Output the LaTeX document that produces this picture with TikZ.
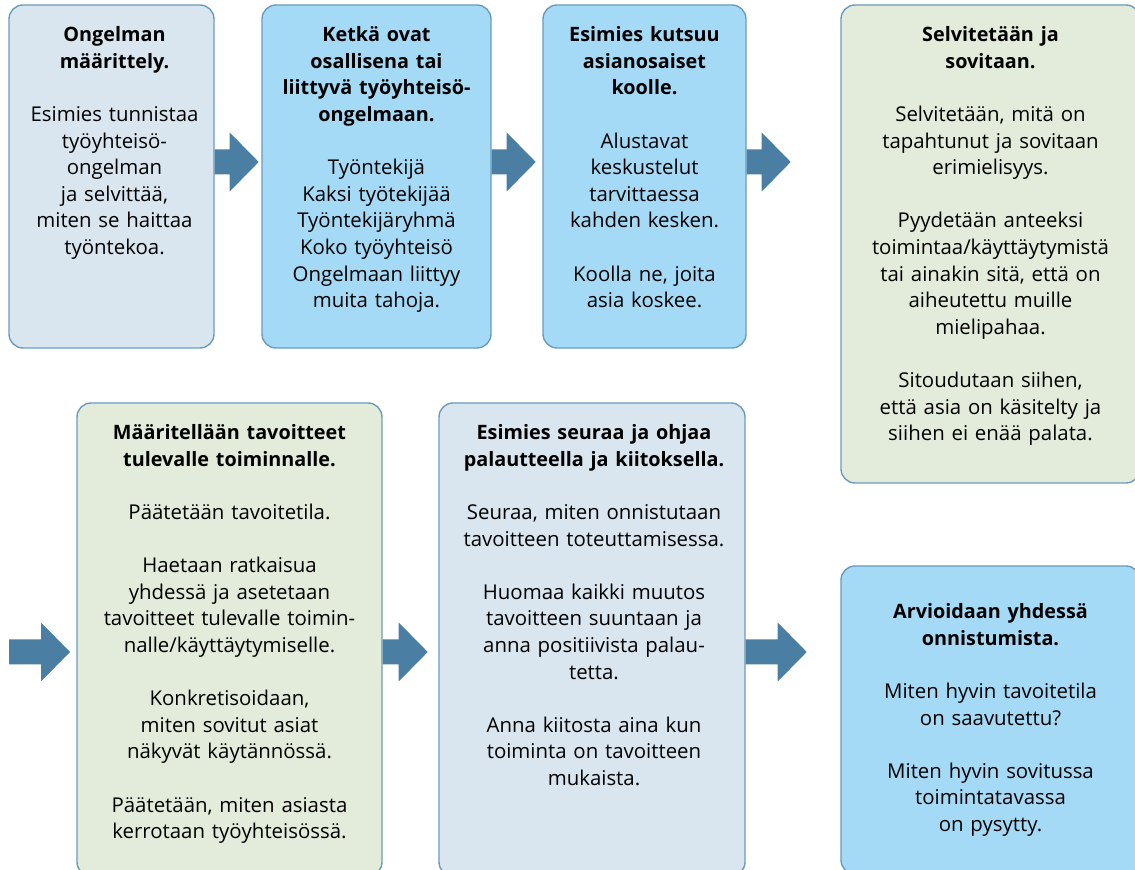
\documentclass[tikz,border=0pt]{standalone}
\usepackage{fontspec}
\setmainfont{Open Sans}
\usetikzlibrary{fit,calc}

\definecolor{greyblue}{HTML}{D9E6EF}
\definecolor{skyblue}{HTML}{A5DAF7}
\definecolor{sage}{HTML}{E3ECDA}
\definecolor{edgeblue}{HTML}{6A9BBE}
\definecolor{arrowblue}{HTML}{4A7FA3}

\tikzset{
	box/.style={draw=edgeblue, line width=0.7pt, rounded corners=7pt, inner sep=0pt},
	boxtext/.style={align=center, text width=170pt, inner sep=0pt,
		font=\fontsize{10.2}{13.3}\selectfont},
	blockarrow/.style={fill=arrowblue},
}
\newcommand\gap{\\[13.3pt]}
\newcommand\head[1]{{\fontsize{9.9}{13.3}\selectfont\bfseries #1}}
% fat arrow: start point, shaft length
\newcommand\fatarrow[2]{%
	\fill[blockarrow] ($(#1)+(0,-12.5)$) -- ++(#2,0) -- ++(0,-17) -- ++(29,29.5)
	-- ++(-29,29.5) -- ++(0,-17) -- ++(-#2,0) -- cycle;}

\begin{document}
\begin{tikzpicture}[x=0.5pt,y=-0.5pt]
	\useasboundingbox (0,0) rectangle (1135,870);
	\clip (0,0) rectangle (1135,870);
	
	\coordinate (row1) at (0,162);
	\coordinate (row2) at (0,652);
	\coordinate (in4) at (9,652);
	
	% upper row
	\node[box, fill=greyblue, fit={(9,5) (214,348)}] (b1) {};
	\node[box, fill=skyblue, fit={(262,5) (491,348)}] (b2) {};
	\node[box, fill=skyblue, fit={(543,5) (746,348)}] (b3) {};
	\node[box, fill=sage, fit={(841,5) (1140,483)}] (b4) {};
	
	% lower row
	\node[box, fill=sage, fit={(77,403) (382,876)}] (b5) {};
	\node[box, fill=greyblue, fit={(439,403) (745,876)}] (b6) {};
	\node[box, fill=skyblue, fit={(841,566) (1140,874)}] (b7) {};
	
	\node[boxtext, anchor=north] (t1) at ($(b1.north)+(3,22)$)
	{\head{Ongelman\\määrittely.}\gap
		Esimies tunnistaa\\työyhteisö-\\ongelman\\ja selvittää,\\miten se haittaa\\työntekoa.};
	\node[boxtext, anchor=north] (t2) at ($(b2.north)+(0,22)$)
	{\head{Ketkä ovat\\osallisena tai\\liittyvä työyhteisö-\\ongelmaan.}\gap
		Työntekijä\\Kaksi työtekijää\\Työntekijäryhmä\\Koko työyhteisö\\Ongelmaan liittyy\\muita tahoja.};
	\node[boxtext, anchor=north] (t3) at ($(b3.north)+(0,22)$)
	{\head{Esimies kutsuu\\asianosaiset\\koolle.}\gap
		Alustavat\\keskustelut\\tarvittaessa\\kahden kesken.\gap
		Koolla ne, joita\\asia koskee.};
	\node[boxtext, anchor=north] (t4) at ($(b4.north)+(0,22)$)
	{\head{Selvitetään ja\\sovitaan.}\gap
		Selvitetään, mitä on\\tapahtunut ja sovitaan\\erimielisyys.\gap
		Pyydetään anteeksi\\toimintaa/käyttäytymistä\\tai ainakin sitä, että on\\aiheutettu muille\\mielipahaa.\gap
		Sitoudutaan siihen,\\että asia on käsitelty ja\\siihen ei enää palata.};
	\node[boxtext, anchor=north] (t5) at ($(b5.north)+(0,22)$)
	{\head{Määritellään tavoitteet\\tulevalle toiminnalle.}\gap
		Päätetään tavoitetila.\gap
		Haetaan ratkaisua\\yhdessä ja asetetaan\\tavoitteet tulevalle toimin-\\nalle/käyttäytymiselle.\gap
		Konkretisoidaan,\\miten sovitut asiat\\näkyvät käytännössä.\gap
		Päätetään, miten asiasta\\kerrotaan työyhteisössä.};
	\node[boxtext, anchor=north] (t6) at ($(b6.north)+(2,22)$)
	{\head{Esimies seuraa ja ohjaa\\palautteella ja kiitoksella.}\gap
		Seuraa, miten onnistutaan\\tavoitteen toteuttamisessa.\gap
		Huomaa kaikki muutos\\tavoitteen suuntaan ja\\anna positiivista palau-\\tetta.\gap
		Anna kiitosta aina kun\\toiminta on tavoitteen\\mukaista.};
	\node[boxtext] (t7) at (b7.center)
	{\head{Arvioidaan yhdessä\\onnistumista.}\gap
		Miten hyvin tavoitetila\\on saavutettu?\gap
		Miten hyvin sovitussa\\toimintatavassa\\on pysytty.};
	
	% arrows
	\fatarrow{b1.east |- row1}{15}
	\fatarrow{b2.east |- row1}{15}
	\fatarrow{b3.east |- row1}{15}
	\fatarrow{in4}{32}
	\fatarrow{b5.east |- row2}{16}
	\fatarrow{b6.east |- row2}{32}
\end{tikzpicture}
\end{document}
